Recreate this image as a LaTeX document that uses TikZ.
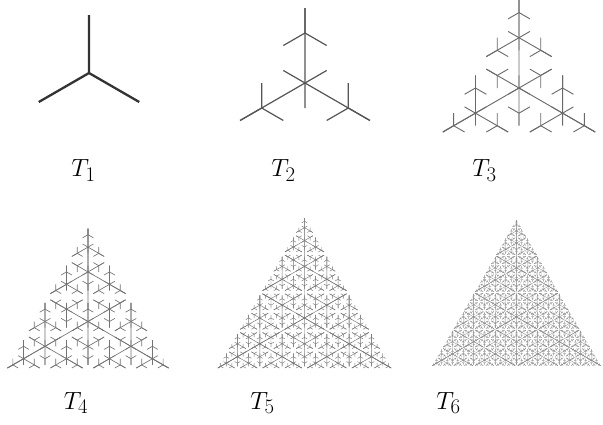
\documentclass[tikz,border=0pt]{standalone}
\usepackage{tikz}
\makeatletter
% recursive tripod tree: level, x, y, size, base angle
\newcommand\triptree[5]{%
\begingroup
\edef\tLv{#1}\edef\tX{#2}\edef\tY{#3}\edef\tS{#4}\edef\tA{#5}%
\draw (\tX,\tY) -- ++(\tA:\tS) (\tX,\tY) -- ++(\tA+120:\tS) (\tX,\tY) -- ++(\tA+240:\tS);
\ifnum\tLv>1
  \pgfmathsetmacro\tR{(2^(\tLv-1)-1)/(2^\tLv-1)}%
  \pgfmathsetmacro\tNS{\tR*\tS}%
  \pgfmathsetmacro\tD{(1-\tR)*\tS}%
  \pgfmathtruncatemacro\tNL{\tLv-1}%
  \pgfmathsetmacro\tB{mod(\tA+180,360)}%
  \triptree{\tNL}{\tX}{\tY}{\tNS}{\tB}%
  \pgfmathsetmacro\tXa{\tX+\tD*cos(\tA)}%
  \pgfmathsetmacro\tYa{\tY+\tD*sin(\tA)}%
  \pgfmathsetmacro\tXb{\tX+\tD*cos(\tA+120)}%
  \pgfmathsetmacro\tYb{\tY+\tD*sin(\tA+120)}%
  \pgfmathsetmacro\tXc{\tX+\tD*cos(\tA+240)}%
  \pgfmathsetmacro\tYc{\tY+\tD*sin(\tA+240)}%
  \triptree{\tNL}{\tXa}{\tYa}{\tNS}{\tA}%
  \triptree{\tNL}{\tXb}{\tYb}{\tNS}{\tA}%
  \triptree{\tNL}{\tXc}{\tYc}{\tNS}{\tA}%
\fi
\endgroup}
\makeatother
\tikzset{
  lbl/.style={anchor=base, inner sep=0pt, font=\fontsize{24.88}{30}\selectfont},
}
\begin{document}
\begin{tikzpicture}[x=1pt,y=-1pt]
\useasboundingbox (0,0) rectangle (603,424);
\fill[white] (0,0) rectangle (603,424);
\begin{scope}[draw={rgb,255:red,51;green,51;blue,51}, line width=2.3pt]
\triptree{1}{89}{73}{58}{270}
\end{scope}
\begin{scope}[draw={rgb,255:red,85;green,85;blue,85}, line width=1.2pt]
\triptree{2}{305}{83}{75}{270}
\end{scope}
\begin{scope}[draw={rgb,255:red,105;green,105;blue,105}, line width=0.9pt]
\triptree{3}{519}{88}{88}{270}
\end{scope}
\begin{scope}[draw={rgb,255:red,115;green,115;blue,115}, line width=0.65pt]
\triptree{4}{88}{321.5}{93}{270}
\end{scope}
\begin{scope}[draw={rgb,255:red,120;green,120;blue,120}, line width=0.45pt]
\triptree{5}{304.5}{318}{100}{270}
\end{scope}
\begin{scope}[draw={rgb,255:red,140;green,140;blue,140}, line width=0.3pt]
\triptree{6}{516.5}{317}{97}{270}
\end{scope}
\node[lbl] (l1) at (83.5,176.5) {$T_1$};
\node[lbl] (l2) at (283.5,176.5) {$T_2$};
\node[lbl] (l3) at (484.5,176.5) {$T_3$};
\node[lbl] (l4) at (76,409) {$T_4$};
\node[lbl] (l5) at (262.5,409) {$T_5$};
\node[lbl] (l6) at (448.5,409) {$T_6$};
\end{tikzpicture}
\end{document}
